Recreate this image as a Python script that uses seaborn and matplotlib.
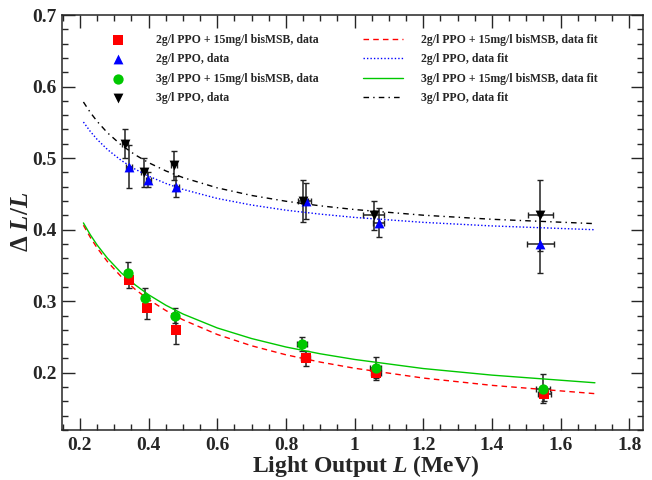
import numpy as np
import pandas as pd
import matplotlib
matplotlib.use('Agg')
import matplotlib.pyplot as plt
import seaborn as sns

# data points: light output L (MeV) and dL/L
L_ppo2_bis = [0.342, 0.394, 0.479, 0.857, 1.063, 1.553]
r_ppo2_bis = [0.33, 0.29, 0.26, 0.22, 0.20, 0.17]
ey_ppo2_bis = [0.012, 0.015, 0.02, 0.01, 0.01, 0.01]
ex_ppo2_bis = [0.008, 0.008, 0.008, 0.013, 0.015, 0.02]

L_ppo2 = [0.343, 0.399, 0.481, 0.859, 1.070, 1.541]
r_ppo2 = [0.488, 0.47, 0.46, 0.44, 0.41, 0.38]
ey_ppo2 = [0.03, 0.01, 0.015, 0.025, 0.02, 0.04]
ex_ppo2 = [0.008, 0.008, 0.008, 0.015, 0.016, 0.04]

L_ppo3_bis = [0.340, 0.389, 0.478, 0.847, 1.061, 1.548]
r_ppo3_bis = [0.34, 0.305, 0.28, 0.24, 0.207, 0.178]
ey_ppo3_bis = [0.015, 0.014, 0.01, 0.01, 0.015, 0.02]
ex_ppo3_bis = [0.008, 0.008, 0.008, 0.015, 0.015, 0.02]

L_ppo3 = [0.331, 0.387, 0.474, 0.850, 1.055, 1.541]
r_ppo3 = [0.52, 0.48, 0.49, 0.44, 0.42, 0.42]
ey_ppo3 = [0.02, 0.02, 0.02, 0.03, 0.02, 0.05]
ex_ppo3 = [0.008, 0.008, 0.008, 0.015, 0.03, 0.037]

# fit curves
L_fit = [0.21, 0.23, 0.25, 0.28, 0.32, 0.36, 0.4, 0.45, 0.5, 0.6, 0.7, 0.8, 0.9, 1.0, 1.2, 1.4, 1.7]
fit_ppo2_bis = [0.4062, 0.3893, 0.3744, 0.3553, 0.3343, 0.3169, 0.3023, 0.2870, 0.2740, 0.2535,
                0.2377, 0.2251, 0.2149, 0.2063, 0.1926, 0.1824, 0.1708]
fit_ppo2 = [0.5504, 0.5373, 0.5261, 0.5120, 0.4968, 0.4847, 0.4748, 0.4646, 0.4563, 0.4436,
            0.4344, 0.4272, 0.4217, 0.4171, 0.4102, 0.4052, 0.3999]
fit_ppo3_bis = [0.4094, 0.3929, 0.3785, 0.3601, 0.3397, 0.3231, 0.3090, 0.2944, 0.2821, 0.2626,
                0.2478, 0.2360, 0.2265, 0.2186, 0.2059, 0.1967, 0.1860]
fit_ppo3 = [0.5784, 0.5638, 0.5513, 0.5354, 0.5184, 0.5048, 0.4936, 0.4821, 0.4728, 0.4584,
            0.4478, 0.4397, 0.4333, 0.4281, 0.4202, 0.4145, 0.4084]

x_ticks = [0.2, 0.4, 0.6, 0.8, 1.0, 1.2, 1.4, 1.6, 1.8]
x_ticklabels = ['0.2', '0.4', '0.6', '0.8', '1', '1.2', '1.4', '1.6', '1.8']
y_ticks = [0.2, 0.3, 0.4, 0.5, 0.6, 0.7]

sns.set_style('ticks')
plt.rcParams['font.family'] = ['Liberation Serif', 'DejaVu Serif']
plt.rcParams['font.weight'] = 'bold'
plt.rcParams['mathtext.fontset'] = 'custom'
plt.rcParams['mathtext.rm'] = 'Liberation Serif:bold'
plt.rcParams['mathtext.it'] = 'Liberation Serif:italic:bold'
plt.rcParams['mathtext.bf'] = 'Liberation Serif:bold'

fig = plt.figure(figsize=(6.52, 4.8), dpi=100)
ax = fig.add_axes([62 / 652, 1 - 430 / 480, 581 / 652, 415 / 480])

series = [
    ('2g/l PPO + 15mg/l bisMSB', L_ppo2_bis, r_ppo2_bis, ey_ppo2_bis, ex_ppo2_bis, fit_ppo2_bis,
     '#ff0000', 's', 48, (0, (4, 3))),
    ('2g/l PPO', L_ppo2, r_ppo2, ey_ppo2, ex_ppo2, fit_ppo2,
     '#0000ff', '^', 50, (0, (1, 1.5))),
    ('3g/l PPO + 15mg/l bisMSB', L_ppo3_bis, r_ppo3_bis, ey_ppo3_bis, ex_ppo3_bis, fit_ppo3_bis,
     '#00c800', 'o', 55, '-'),
    ('3g/l PPO', L_ppo3, r_ppo3, ey_ppo3, ex_ppo3, fit_ppo3,
     'black', 'v', 50, (0, (4, 3, 1, 3))),
]

point_handles, line_handles = [], []
point_labels, line_labels = [], []
for name, L, r, ey, ex, fit, col, mk, sz, ls in series:
    ax.errorbar(L, r, yerr=ey, xerr=ex, fmt='none', ecolor='#222222',
                elinewidth=1.1, capsize=2, capthick=1, zorder=2)
    df = pd.DataFrame({'L': L, 'r': r})
    sns.scatterplot(data=df, x='L', y='r', marker=mk, s=sz, color=col,
                    linewidth=0, ax=ax, zorder=4)
    point_handles.append(ax.collections[-1])
    point_labels.append(name + ', data')

for name, L, r, ey, ex, fit, col, mk, sz, ls in series:
    dfit = pd.DataFrame({'L': L_fit, 'fit': fit})
    sns.lineplot(data=dfit, x='L', y='fit', color=col, linewidth=1.0,
                 sort=False, ax=ax, zorder=3)
    ax.lines[-1].set_linestyle(ls)
    line_handles.append(ax.lines[-1])
    line_labels.append(name + ', data fit')

ax.set_xlim(0.1476, 1.84)
ax.set_ylim(0.12, 0.7)
ax.set_xticks(x_ticks)
ax.set_xticklabels(x_ticklabels)
ax.set_yticks(y_ticks)
ax.set_yticklabels([f'{v:.1f}' for v in y_ticks])
ax.set_xticks(np.arange(0.15, 1.84, 0.05), minor=True)
ax.set_yticks(np.arange(0.12, 0.701, 0.02), minor=True)
ax.tick_params(which='both', direction='in', top=True, right=True, labelsize=14, width=1)
ax.tick_params(which='major', length=9)
ax.tick_params(which='minor', length=4.5)
ax.tick_params(axis='x', pad=5)
ax.tick_params(axis='y', pad=4)
for sp in ax.spines.values():
    sp.set_linewidth(1.1)

ax.set_xlabel(r'Light Output $L$ (MeV)', fontsize=17, fontweight='bold')
ax.xaxis.set_label_coords((366 - 62) / 581, (430 - 453) / 415)
ax.set_ylabel(r'$\Delta$ $L/L$', fontsize=18, fontweight='bold')
ax.yaxis.set_label_coords((33 - 62) / 581, (430 - 222) / 415)

ax.legend(point_handles + line_handles, point_labels + line_labels, ncol=2,
          loc='upper left', bbox_to_anchor=(98 / 652, 1 - 34 / 480),
          bbox_transform=fig.transFigure, frameon=False, fontsize=8.5,
          handlelength=3.4, handletextpad=1.5, columnspacing=3.8,
          labelspacing=0.62, borderpad=0, borderaxespad=0)

fig.savefig('out.png', dpi=100)
